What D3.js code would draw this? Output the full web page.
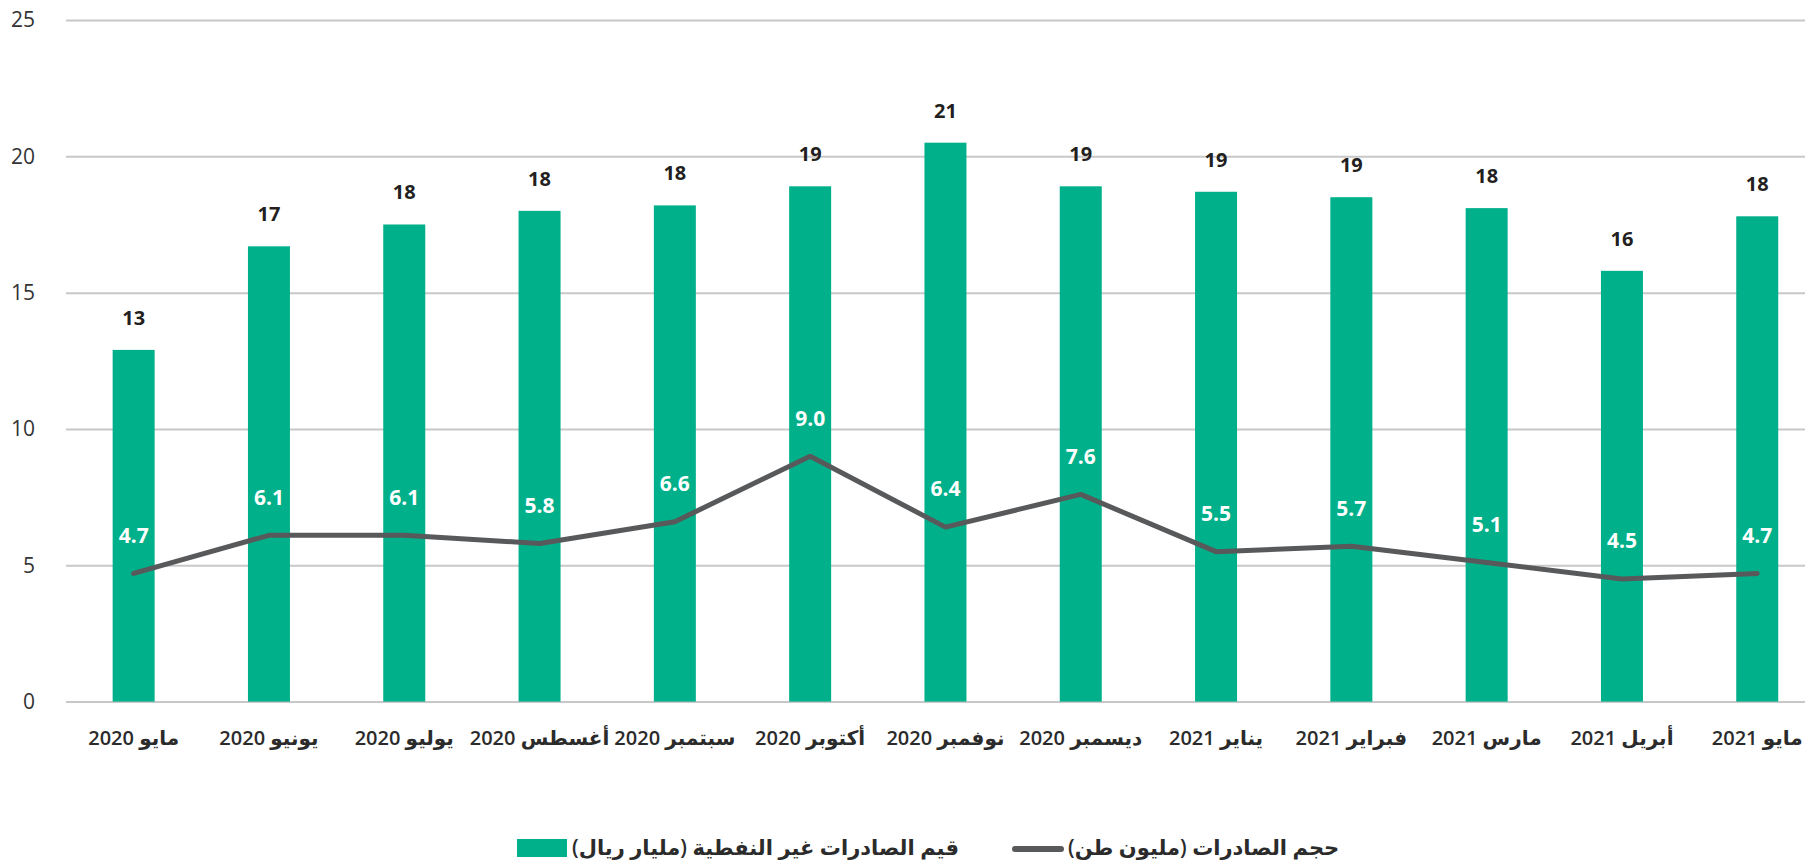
<!DOCTYPE html>
<meta charset="utf-8">
<head>
<style>
  body { margin: 0; background: #fff; }
  text { font-family: "Open Sans", "DejaVu Sans", sans-serif; }
  .grid line { stroke: #c8c8c8; stroke-width: 2; }
  .grid text { font-size: 21px; fill: #333; }
</style>
</head>
<body>
<svg id="chart"></svg>
<script src="https://d3js.org/d3.v7.min.js"></script>
<script>

// months, May 2020 -> May 2021
var months = ["مايو 2020", "يونيو 2020", "يوليو 2020", "أغسطس 2020", "سبتمبر 2020", "أكتوبر 2020",
  "نوفمبر 2020", "ديسمبر 2020", "يناير 2021", "فبراير 2021", "مارس 2021", "أبريل 2021", "مايو 2021"];

// non-oil exports value (billion riyal)
var exportValue = [12.9, 16.7, 17.5, 18.0, 18.2, 18.9, 20.5, 18.9, 18.7, 18.5, 18.1, 15.8, 17.8];
var valueLabels = ["13", "17", "18", "18", "18", "19", "21", "19", "19", "19", "18", "16", "18"];

// exports volume (million ton)
var exportVolume = [4.7, 6.1, 6.1, 5.8, 6.6, 9.0, 6.4, 7.6, 5.5, 5.7, 5.1, 4.5, 4.7];

var yTicks = [0, 5, 10, 15, 20, 25];

var legendBar = "قيم الصادرات غير النفطية (مليار  ريال)";
var legendLine = "حجم الصادرات (مليون طن)";

var W = 1805, H = 860;
var margin = {top: 20, left: 66, bottom: 158};
var step = 135.3;

var svg = d3.select("#chart")
    .attr("width", W)
    .attr("height", H);

var x = d3.scaleBand()
    .domain(d3.range(months.length))
    .range([margin.left, margin.left + step * months.length]);

var y = d3.scaleLinear()
    .domain([0, 25])
    .range([H - margin.bottom - 0.4, margin.top]);

var barW = 42;

// gridlines + y labels
var yAxis = d3.axisLeft(y)
    .tickValues(yTicks)
    .tickSizeInner(-(W - margin.left))
    .tickSizeOuter(0)
    .tickPadding(31);

svg.append("g")
    .attr("class", "grid")
    .attr("transform", "translate(" + margin.left + ",0)")
    .call(yAxis)
    .call(function(g) { g.select(".domain").remove(); });

// bars
svg.selectAll(".bar")
    .data(exportValue)
  .enter().append("rect")
    .attr("class", "bar")
    .attr("x", function(d, i) { return x(i) + x.bandwidth() / 2 - barW / 2; })
    .attr("width", barW)
    .attr("y", function(d) { return y(d); })
    .attr("height", function(d) { return y(0) - y(d); })
    .style("fill", "#00b08a");

// bar value labels
svg.selectAll(".barlabel")
    .data(exportValue)
  .enter().append("text")
    .attr("class", "barlabel")
    .attr("x", function(d, i) { return x(i) + x.bandwidth() / 2; })
    .attr("y", function(d) { return y(d) - 32; })
    .attr("dy", "0.35em")
    .attr("text-anchor", "middle")
    .style("font-size", "20px")
    .style("font-weight", "700")
    .style("fill", "#231f20")
    .text(function(d, i) { return valueLabels[i]; });

// volume line
var line = d3.line()
    .x(function(d, i) { return x(i) + x.bandwidth() / 2; })
    .y(function(d) { return y(d); });

svg.append("path")
    .datum(exportVolume)
    .attr("d", line)
    .style("fill", "none")
    .style("stroke", "#58595b")
    .style("stroke-width", 5)
    .style("stroke-linecap", "round")
    .style("stroke-linejoin", "round");

svg.selectAll(".linelabel")
    .data(exportVolume)
  .enter().append("text")
    .attr("class", "linelabel")
    .attr("x", function(d, i) { return x(i) + x.bandwidth() / 2; })
    .attr("y", function(d) { return y(d) - 38; })
    .attr("dy", "0.35em")
    .attr("text-anchor", "middle")
    .style("font-size", "21px")
    .style("font-weight", "700")
    .style("fill", "#fff")
    .text(function(d) { return d.toFixed(1); });

// month labels
svg.selectAll(".month")
    .data(months)
  .enter().append("text")
    .attr("class", "month")
    .attr("x", function(d, i) { return x(i) + x.bandwidth() / 2; })
    .attr("y", 738)
    .attr("dy", "0.35em")
    .attr("direction", "rtl")
    .attr("text-anchor", "middle")
    .style("font-size", "20px")
    .style("font-weight", "600")
    .style("fill", "#2b2b2b")
    .text(function(d) { return d; });

// legend
var legend = svg.append("g");

legend.append("rect")
    .attr("x", 517).attr("y", 839)
    .attr("width", 50).attr("height", 18)
    .style("fill", "#00b08a");

legend.append("text")
    .attr("x", 572).attr("y", 848)
    .attr("dy", "0.35em")
    .attr("direction", "rtl")
    .attr("text-anchor", "end")
    .style("font-size", "21px")
    .style("font-weight", "600")
    .style("fill", "#2b2b2b")
    .text(legendBar);

legend.append("line")
    .attr("x1", 1015).attr("x2", 1061)
    .attr("y1", 849).attr("y2", 849)
    .style("stroke", "#58595b")
    .style("stroke-width", 6)
    .style("stroke-linecap", "round");

legend.append("text")
    .attr("x", 1068).attr("y", 848)
    .attr("dy", "0.35em")
    .attr("direction", "rtl")
    .attr("text-anchor", "end")
    .style("font-size", "21px")
    .style("font-weight", "600")
    .style("fill", "#2b2b2b")
    .text(legendLine);

</script>
</body>
